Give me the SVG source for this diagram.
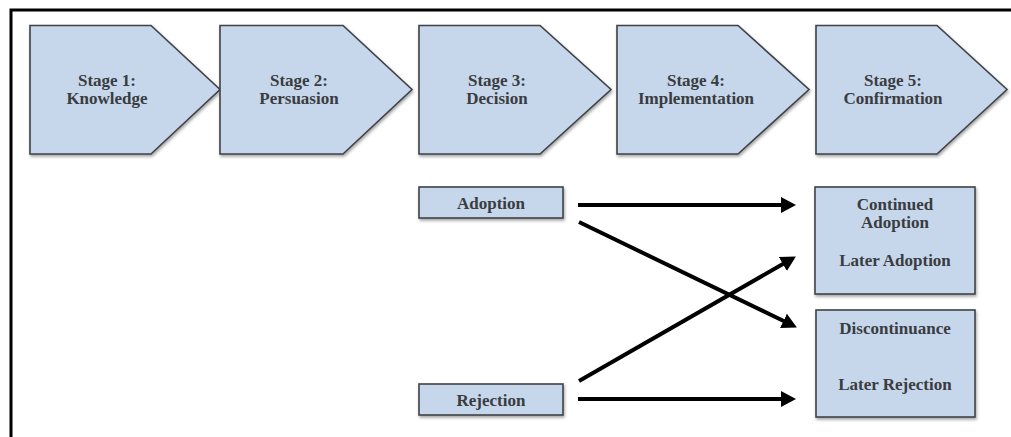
<svg xmlns="http://www.w3.org/2000/svg" width="1011" height="437" viewBox="0 0 1011 437">
  <defs>
    <style>
      .shape { fill: #c6d7ec; stroke: #3f4246; stroke-width: 1.6; filter: url(#shadow); }
      .lbl { font-family: "Liberation Serif", "Times New Roman", serif; font-weight: bold; font-size: 17px; fill: #3a3c40; text-anchor: middle; }
      .conn { stroke: #000; stroke-width: 4; fill: none; marker-end: url(#head); }
    </style>
    <filter id="shadow" x="-10%" y="-10%" width="120%" height="130%">
      <feDropShadow dx="1" dy="2" stdDeviation="1.5" flood-color="#000" flood-opacity="0.35"/>
    </filter>
    <marker id="head" markerUnits="userSpaceOnUse" markerWidth="16" markerHeight="18" refX="6" refY="9" orient="auto">
      <path d="M0,1 L15,9 L0,17 Z" fill="#000"/>
    </marker>
  </defs>
  <rect width="1011" height="437" fill="#ffffff"/>
  <path d="M11,437 V10 H1011" fill="none" stroke="#000" stroke-width="3"/>

  <g id="stage1">
    <polygon class="shape" points="30,25.5 151,25.5 220,89.5 151,154 30,154"/>
    <text class="lbl" x="107" y="86">Stage 1:</text>
    <text class="lbl" x="107" y="104">Knowledge</text>
  </g>
  <g id="stage2">
    <polygon class="shape" points="220,25.5 343,25.5 412,89.5 343,154 220,154"/>
    <text class="lbl" x="299" y="86">Stage 2:</text>
    <text class="lbl" x="299" y="104">Persuasion</text>
  </g>
  <g id="stage3">
    <polygon class="shape" points="419,25.5 540,25.5 611,89.5 540,154 419,154"/>
    <text class="lbl" x="497" y="86">Stage 3:</text>
    <text class="lbl" x="497" y="104">Decision</text>
  </g>
  <g id="stage4">
    <polygon class="shape" points="617,25.5 738,25.5 809,89.5 738,154 617,154"/>
    <text class="lbl" x="696" y="86">Stage 4:</text>
    <text class="lbl" x="696" y="104">Implementation</text>
  </g>
  <g id="stage5">
    <polygon class="shape" points="816,25.5 937,25.5 1007,89.5 937,154 816,154"/>
    <text class="lbl" x="893" y="86">Stage 5:</text>
    <text class="lbl" x="893" y="104">Confirmation</text>
  </g>

  <g id="adoption">
    <rect class="shape" x="419" y="187" width="144" height="31"/>
    <text class="lbl" x="491" y="208.5">Adoption</text>
  </g>
  <g id="rejection">
    <rect class="shape" x="419" y="384" width="144" height="31"/>
    <text class="lbl" x="491" y="405.5">Rejection</text>
  </g>
  <g id="continued">
    <rect class="shape" x="815" y="187" width="160" height="107"/>
    <text class="lbl" x="895" y="209.5">Continued</text>
    <text class="lbl" x="895" y="227.5">Adoption</text>
    <text class="lbl" x="895" y="265.5">Later Adoption</text>
  </g>
  <g id="discontinuance">
    <rect class="shape" x="816" y="310" width="159" height="107"/>
    <text class="lbl" x="895" y="333.5">Discontinuance</text>
    <text class="lbl" x="895" y="389.5">Later Rejection</text>
  </g>

  <g id="connectors">
    <line class="conn" x1="578" y1="205" x2="787" y2="205"/>
    <line class="conn" x1="579" y1="222" x2="788.8" y2="323.5"/>
    <line class="conn" x1="579" y1="381" x2="788.1" y2="261"/>
    <line class="conn" x1="578" y1="399" x2="787" y2="399"/>
  </g>
</svg>
